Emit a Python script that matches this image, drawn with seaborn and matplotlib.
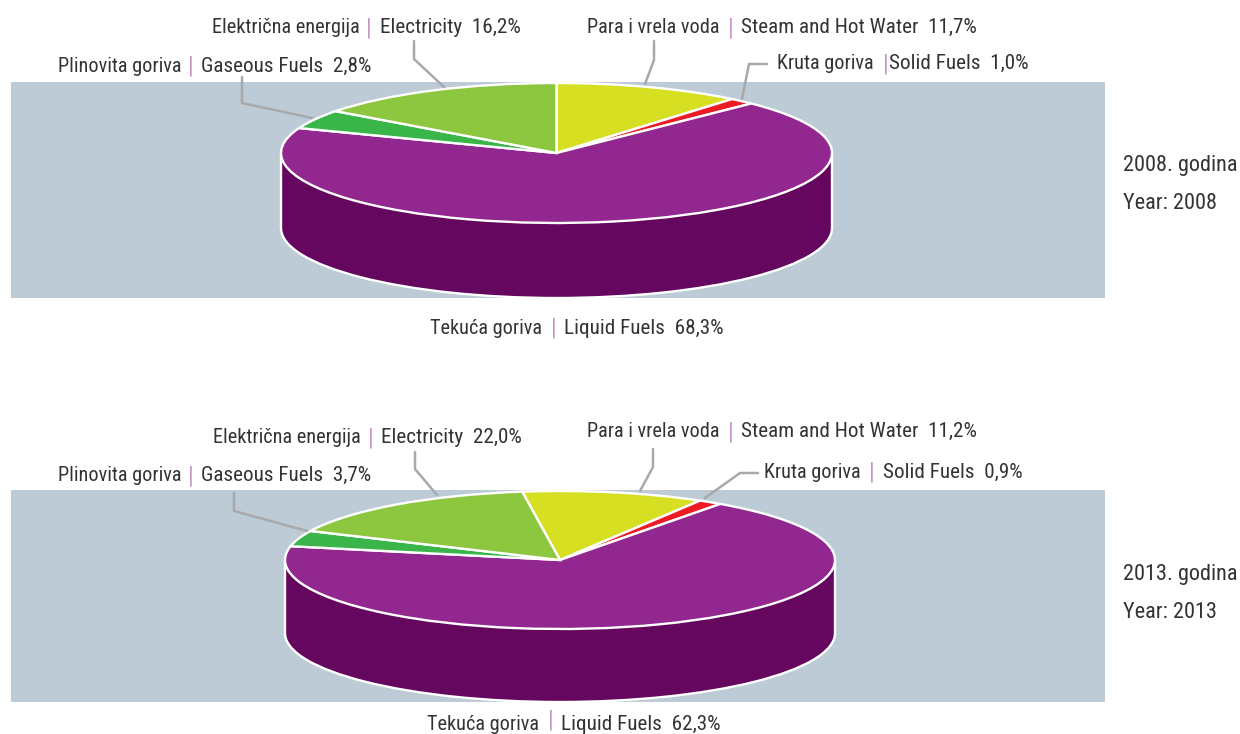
import matplotlib
matplotlib.use("Agg")
import matplotlib.pyplot as plt
from matplotlib.lines import Line2D
import seaborn as sns

# labels, clockwise from the top of the pie
names_hr = ["Para i vrela voda", "Kruta goriva", "Tekuća goriva", "Plinovita goriva", "Električna energija"]
names_en = ["Steam and Hot Water", "Solid Fuels", "Liquid Fuels", "Gaseous Fuels", "Electricity"]

# percentages as printed on the chart
printed_2008 = [11.7, 1.0, 68.3, 2.8, 16.2]
printed_2013 = [11.2, 0.9, 62.3, 3.7, 22.0]

# slice sizes as actually drawn in the picture (2013 does not follow its printed numbers)
drawn_2008 = [11.0, 1.5, 68.3, 4.4, 14.8]
drawn_2013 = [10.7, 1.4, 68.3, 3.7, 15.9]

slice_colors = sns.color_palette(["#d7df23", "#ed1c24", "#92278f", "#39b54a", "#8dc63f"])
side_color = "#65065f"
band_color = "#bccbd5"
text_color = "#333333"
pipe_color = "#c995c8"
leader_color = "#a7a9ac"

W, H = 1240, 734

sns.set_theme(style="white")
plt.rcParams["font.family"] = ["Roboto Condensed", "Archivo Narrow", "Sofia Sans Semi Condensed", "Liberation Sans", "DejaVu Sans"]

fig = plt.figure(figsize=(W / 100, H / 100), dpi=100, facecolor="white")


def px_text(x, y, s, color=text_color, size=14.6):
    fig.text(x / W, 1 - y / H, s, color=color, fontsize=size, ha="left", va="baseline")


def leader(xs, ys):
    fig.add_artist(Line2D([x / W for x in xs], [1 - y / H for y in ys], color=leader_color, lw=1.8,
                          solid_joinstyle="miter", transform=fig.transFigure))


def label(i, printed, x_hr, x_pipe, x_en, y, pipe_dy=1):
    px_text(x_hr, y, names_hr[i])
    px_text(x_pipe, y + pipe_dy, "|", color=pipe_color, size=17)
    px_text(x_en, y, f"{names_en[i]}  {printed[i]:.1f}%".replace(".", ","), size=15.2)


def draw_pie(values, band, center, rx, ry, depth, start):
    left, top, right, bottom = band
    drop = depth / ry
    ax = fig.add_axes([left / W, 1 - bottom / H, (right - left) / W, (bottom - top) / H])
    ax.set_facecolor(band_color)

    # side wall: a dark pie one depth lower, joined to the top with a filled strip
    wall = {"edgecolor": "white", "linewidth": 1.7, "clip_on": False}
    ax.pie([1], colors=[side_color], center=(0, -drop), radius=1, wedgeprops=wall, frame=True)
    ax.fill_between([-1, 1], -drop, 0, color=side_color, lw=0, zorder=1.5)
    ax.plot([-1, -1], [-drop, 0], color="white", lw=1.7, zorder=1.6)
    ax.plot([1, 1], [-drop, 0], color="white", lw=1.7, zorder=1.6)

    ax.pie(values, colors=slice_colors, startangle=start, counterclock=False, radius=1,
           wedgeprops={"edgecolor": "white", "linewidth": 1.7, "clip_on": False, "zorder": 2}, frame=True)

    ax.set_aspect("auto")
    ax.set_xlim((left - center[0]) / rx, (right - center[0]) / rx)
    ax.set_ylim((center[1] - bottom) / ry, (center[1] - top) / ry)
    ax.set_xticks([])
    ax.set_yticks([])
    sns.despine(ax=ax, left=True, bottom=True)


draw_pie(drawn_2008, (11, 82, 1105, 298), (556.5, 153), 275.5, 70, 75, 90)
draw_pie(drawn_2013, (11, 490, 1105, 702), (560, 560), 275, 69, 73, 97.9)

# 2008 labels
label(4, printed_2008, 212, 366, 380, 33)
label(3, printed_2008, 58, 188, 201, 72)
label(0, printed_2008, 587, 728, 741, 33)
label(1, printed_2008, 777, 883, 889, 69)
label(2, printed_2008, 430, 551, 564, 334)
px_text(1123, 171, "2008. godina", size=16)
px_text(1123, 209, "Year: 2008", size=16)

# 2013 labels
label(4, printed_2013, 213, 368, 381, 443)
label(3, printed_2013, 58, 188, 201, 481)
label(0, printed_2013, 587, 728, 741, 437)
label(1, printed_2013, 764, 869, 883, 478)
label(2, printed_2013, 427, 548, 561, 730, pipe_dy=-3)
px_text(1123, 580, "2013. godina", size=16)
px_text(1123, 618, "Year: 2013", size=16)

# leader lines
leader([414, 414, 444], [41, 59, 87])
leader([242, 242, 312], [77, 103, 118])
leader([654, 654, 645], [41, 60, 84])
leader([767, 749, 742], [64, 64, 99])
leader([415, 415, 437], [452, 469, 495])
leader([234, 234, 307], [493, 511, 531])
leader([653, 653, 640], [449, 467, 491])
leader([758, 740, 705], [473, 473, 498])

fig.savefig("out.png", dpi=100)
